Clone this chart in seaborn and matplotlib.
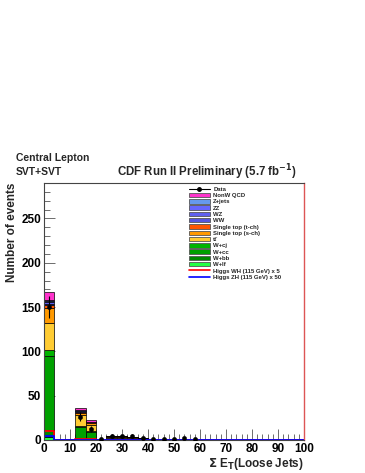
import numpy as np
import pandas as pd
import matplotlib
matplotlib.use("Agg")
import matplotlib.pyplot as plt
import seaborn as sns
from matplotlib.patches import Patch
from matplotlib.lines import Line2D
from matplotlib.ticker import MultipleLocator

# bins of 4 GeV from 0 to 100
bin_edges = list(range(0, 104, 4))
bin_centers = [e + 2 for e in bin_edges[:-1]]

# stacked backgrounds, legend order (top of stack first), 25 bins each
processes = ['NonW QCD', 'Z+jets', 'ZZ', 'WZ', 'WW', 'Single top (t-ch)', 'Single top (s-ch)',
             'tt\u0304', 'W+cj', 'W+cc', 'W+bb', 'W+lf']
colors = ['#ff33cc', '#6699ee', '#6666ff', '#6060ee', '#5555dd', '#ff5500', '#ff9900',
          '#ffcc33', '#00b400', '#00a000', '#008800', '#22ff44']

qcd    = [9, 0, 0, 3, 2, 0, 0.3, 0.3, 0.3, 0.2, 0.1, 0.1, 0.1, 0.1, 0.1] + [0] * 10
zjets  = [1, 0, 0, 0.5, 0.4, 0, 0.1, 0.1, 0.1, 0, 0, 0, 0, 0, 0] + [0] * 10
zz     = [1, 0, 0, 0.2, 0.1, 0, 0, 0, 0, 0, 0, 0, 0, 0, 0] + [0] * 10
wz     = [2, 0, 0, 0.3, 0.2, 0, 0, 0, 0, 0, 0, 0, 0, 0, 0] + [0] * 10
ww     = [2, 0, 0, 0.5, 0.3, 0, 0.2, 0.2, 0.1, 0.1, 0, 0, 0, 0, 0] + [0] * 10
stop_t = [3, 0, 0, 1, 1, 0, 0.5, 0.5, 0.4, 0.2, 0.1, 0.1, 0.1, 0, 0] + [0] * 10
stop_s = [17, 0, 0, 3, 2, 0, 0.6, 0.6, 0.5, 0.3, 0.2, 0.1, 0.1, 0.1, 0] + [0] * 10
ttbar  = [30, 0, 0, 12, 7, 0.3, 1.5, 1.5, 1.5, 0.8, 0.5, 0.3, 0.3, 0.2, 0.1] + [0] * 10
wcj    = [7, 0, 0, 1.5, 1, 0.1, 0.3, 0.3, 0.2, 0.1, 0.1, 0, 0, 0, 0] + [0] * 10
wcc    = [84, 0, 0, 13, 8, 0.3, 1, 1, 0.6, 0.3, 0.2, 0.1, 0.1, 0, 0] + [0] * 10
wbb    = [8, 0, 0, 1, 0.5, 0.1, 0.3, 0.3, 0.2, 0.1, 0.1, 0, 0, 0, 0] + [0] * 10
wlf    = [3, 0, 0, 0.5, 0.3, 0, 0.1, 0.1, 0, 0, 0, 0, 0, 0, 0] + [0] * 10
backgrounds = [qcd, zjets, zz, wz, ww, stop_t, stop_s, ttbar, wcj, wcc, wbb, wlf]

# observed data
data_counts = [150, 0, 0, 26, 12, 1, 5, 4, 5, 2, 1, 1, 1, 2, 1] + [0] * 10

# signal templates (scaled)
higgs_wh = [10, 0, 0, 1, 0.7, 0.3, 0.3, 0.3, 0.2, 0.1, 0.1, 0, 0, 0, 0] + [0] * 10
higgs_zh = [4, 0, 0, 0.5, 0.3, 0, 0, 0, 0, 0, 0, 0, 0, 0, 0] + [0] * 10

rows = []
for name, vals in zip(processes, backgrounds):
	for c, w in zip(bin_centers, vals):
		rows.append({'x': c, 'w': w, 'process': name})
df = pd.DataFrame(rows)

sns.set_style("ticks")
plt.rcParams['font.family'] = ['Liberation Sans', 'DejaVu Sans']
plt.rcParams['font.weight'] = 'bold'
plt.rcParams['mathtext.default'] = 'bf'

fig = plt.figure(figsize=(3.65, 4.73), dpi=100)
ax = fig.add_axes([0.1205, 0.0698, 0.7125, 0.5432])

sns.histplot(data=df, x='x', weights='w', hue='process', hue_order=processes,
			 palette=dict(zip(processes, colors)), multiple='stack', bins=bin_edges,
			 element='bars', edgecolor='black', linewidth=0.5, alpha=1,
			 legend=False, ax=ax)

# signal step lines
sig_x = bin_edges
sns.lineplot(x=sig_x, y=higgs_wh + [higgs_wh[-1]], drawstyle='steps-post',
			 color='red', linewidth=1.3, ax=ax)
sns.lineplot(x=sig_x, y=higgs_zh + [higgs_zh[-1]], drawstyle='steps-post',
			 color='blue', linewidth=1.3, ax=ax)

# data points, only non-empty bins
dx = [c for c, n in zip(bin_centers, data_counts) if n > 0]
dy = [n for n in data_counts if n > 0]
ax.errorbar(dx, dy, yerr=np.sqrt(dy), fmt='none', ecolor='black', elinewidth=0.8)
sns.scatterplot(x=dx, y=dy, color='black', s=10, edgecolor='black', ax=ax, zorder=5)

ax.set_xlim(0, 100)
ax.set_ylim(0, 290)
ax.xaxis.set_major_locator(MultipleLocator(10))
ax.xaxis.set_minor_locator(MultipleLocator(2))
ax.yaxis.set_major_locator(MultipleLocator(50))
ax.yaxis.set_minor_locator(MultipleLocator(10))
ax.tick_params(axis='both', which='both', direction='in', top=False, right=False,
			   labelsize=8.5, colors='black', pad=2)
ax.tick_params(which='major', length=8, width=0.6, color='#555555')
ax.tick_params(which='minor', length=4, width=0.6, color='#555555')
for side in ['top', 'left', 'bottom']:
	ax.spines[side].set_color('#444444')
	ax.spines[side].set_linewidth(0.8)
ax.spines['right'].set_color('#dd5555')
ax.spines['right'].set_linewidth(1.0)

ax.set_ylabel('Number of events', fontsize=8.5, fontweight='bold', loc='top')
ax.yaxis.set_label_coords(-0.1, 1.0)
ax.set_xlabel(r'$\Sigma$ E$_{\rm T}$(Loose Jets)', fontsize=8.5, fontweight='bold',
			  loc='right', labelpad=1)

fig.text(0.044, 0.66, 'Central Lepton', fontsize=7.5, fontweight='bold', ha='left')
fig.text(0.044, 0.631, 'SVT+SVT', fontsize=7.5, fontweight='bold', ha='left')
fig.text(0.568, 0.628, r'CDF Run II Preliminary (5.7 fb$^{-1}$)', fontsize=8.3,
		 fontweight='bold', ha='center')

handles = [Line2D([], [], color='black', marker='o', markersize=2.5, linewidth=0.8)]
for name, col in zip(processes, colors):
	handles.append(Patch(facecolor=col, edgecolor='#555555', linewidth=0.6))
handles.append(Line2D([], [], color='red', linewidth=1.2))
handles.append(Line2D([], [], color='blue', linewidth=1.2))
labels = ['Data'] + processes + ['Higgs WH (115 GeV) x 5', 'Higgs ZH (115 GeV) x 50']
leg = ax.legend(handles, labels, loc='upper left', bbox_to_anchor=(0.545, 1.0),
				frameon=False, fontsize=4.3, handlelength=3.4, handleheight=0.75,
				labelspacing=0.17, handletextpad=0.6, borderaxespad=0.2)
for t in leg.get_texts():
	t.set_fontweight('bold')

fig.savefig('out.png', dpi=100)
